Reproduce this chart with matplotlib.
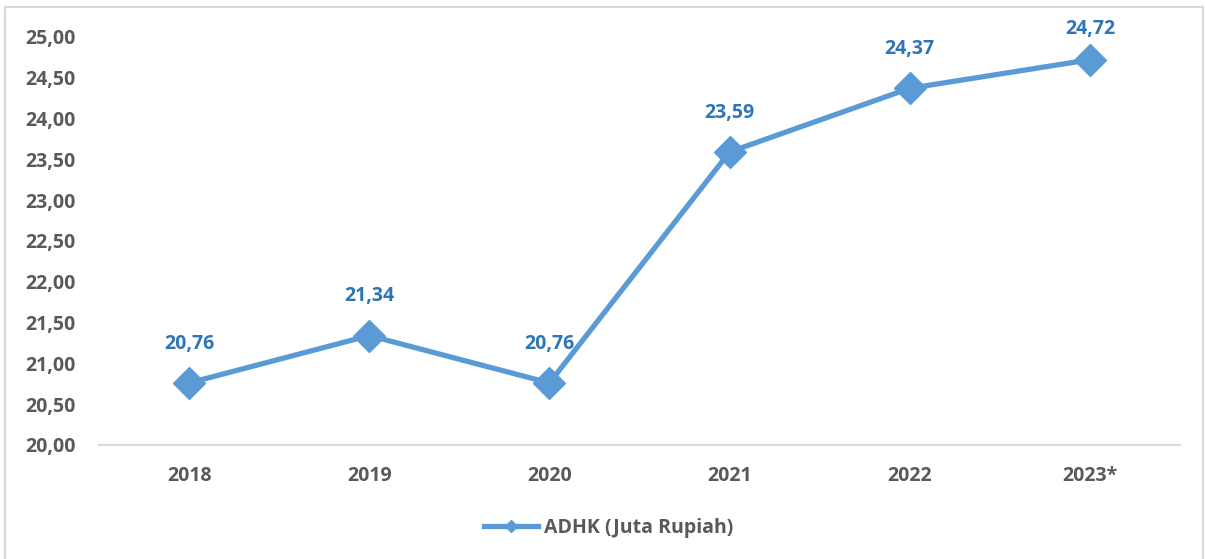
import matplotlib.pyplot as plt
from matplotlib.lines import Line2D
from matplotlib.patches import Rectangle

tahun = ["2018", "2019", "2020", "2021", "2022", "2023*"]
adhk = [20.76, 21.34, 20.76, 23.59, 24.37, 24.72]
label_seri = "ADHK (Juta Rupiah)"
y_ticks = [20.0, 20.5, 21.0, 21.5, 22.0, 22.5, 23.0, 23.5, 24.0, 24.5, 25.0]

plt.rcParams['font.family'] = ['Open Sans', 'DejaVu Sans']
abu = "#595959"
biru = "#5B9BD5"
biru_label = "#2E75B6"

fig = plt.figure(figsize=(12.05, 5.59), dpi=100)
fig.patches.append(Rectangle((0.004, -0.01), 0.994, 0.997, transform=fig.transFigure,
                             fill=False, edgecolor="#D9D9D9", linewidth=1.5))
ax = fig.add_axes([0.0822, 0.204, 0.897, 0.730])

x = range(len(tahun))
ax.plot(x, adhk, color=biru, linewidth=3.8, marker="D", markersize=16, zorder=3)

ymax = 25
for xi, v in zip(x, adhk):
    # label di atas titik, dibatasi agar tidak keluar area grafik
    off = 21 if v < ymax - 0.4 else 15
    ax.annotate(f"{v:.2f}".replace(".", ","), (xi, v), xytext=(0, off),
                textcoords="offset points", ha="center", va="bottom",
                color=biru_label, fontsize=14, fontweight="bold", annotation_clip=False)

ax.set_xlim(-0.5, len(tahun) - 0.5)
ax.set_ylim(20, ymax)
ax.set_xticks(list(x))
ax.set_xticklabels(tahun)
ax.set_yticks(y_ticks)
ax.set_yticklabels([f"{t:.2f}".replace(".", ",") for t in y_ticks])
for s in ["top", "right", "left"]:
    ax.spines[s].set_visible(False)
ax.spines["bottom"].set_color("#D9D9D9")
ax.spines["bottom"].set_linewidth(1.5)
ax.tick_params(length=0, labelsize=14, labelcolor=abu)
ax.tick_params(axis="x", pad=15)
ax.tick_params(axis="y", pad=17)
for lab in ax.get_xticklabels() + ax.get_yticklabels():
    lab.set_fontweight("bold")

handle = Line2D([], [], color=biru, linewidth=3.8, marker="D", markersize=6)
leg = fig.legend([handle], [label_seri], loc="center", bbox_to_anchor=(0.505, 0.055),
                 frameon=False, handlelength=2.8, handletextpad=0.3,
                 prop={"size": 14, "weight": "bold"})
for t in leg.get_texts():
    t.set_color(abu)

fig.savefig("out.png", dpi=100)
